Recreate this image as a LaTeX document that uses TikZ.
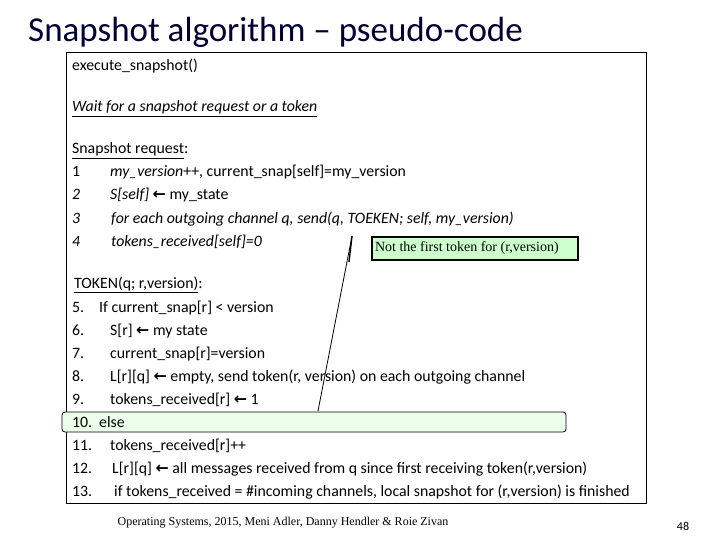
\documentclass[tikz,border=0pt]{standalone}
\usepackage{fontspec}
\setmainfont{Carlito}
\newfontfamily\ser{Liberation Serif}
\newfontfamily\dv{DejaVu Sans}
\newcommand{\la}{{\dv\bfseries ←}}
\begin{document}
\begin{tikzpicture}[x=1pt,y=-1pt,
  code/.style={anchor=base west,inner sep=0pt,font=\fontsize{15.8}{18}\selectfont}]
\useasboundingbox (0,0) rectangle (720,540);
\node[anchor=base west,inner sep=0pt,font=\fontsize{35}{40}\selectfont,text=black!80!blue] (title) at (28,42) {Snapshot algorithm -- pseudo-code};
\draw[line width=0.8pt] (66,52) rectangle (646,503);
\draw[line width=0.8pt,fill=green!8,rounded corners=3pt] (62,412) rectangle (566,432);
\node[draw,line width=1.2pt,fill=green!20,minimum width=206pt,minimum height=23pt,inner sep=0pt,font=\ser\fontsize{14}{16}\selectfont] (call) at (475,248.5) {\makebox[200pt][l]{Not the first token for (r,version)}};
\coordinate (tip) at (318,411);
\coordinate (top) at (352,236);
\coordinate (bot) at (349,262);
\draw[line width=0.8pt] (top) -- (tip);
\draw[line width=1.4pt] (top) -- (bot);
\node[code] (l0) at (72,71) {execute\_snapshot()};
\node[code] (l1) at (72,112) {\underline{\itshape Wait for a snapshot request or a token}};
\node[code] (l2) at (72,154) {\underline{Snapshot request}:};
\node[code] (n1) at (72,177) {1};
\node[code] (t1) at (110,177) {{\itshape my\_version}++, current\_snap[self]=my\_version};
\node[code] (n2) at (72,200) {\itshape 2};
\node[code] (t2) at (110,200) {{\itshape S[self]} \la{} my\_state};
\node[code] (n3) at (72,223) {\itshape 3};
\node[code] (t3) at (111,223) {\itshape for each outgoing channel q, send(q, TOEKEN; self, my\_version)};
\node[code] (n4) at (72,246) {\itshape 4};
\node[code] (t4) at (111,246) {\itshape tokens\_received[self]=0};
\node[code] (tok) at (74,288) {\underline{TOKEN(q; r,version)}:};
\foreach \n/\y/\x/\t in {5/312/99/{If current\_snap[r] < version},
  6/335/110/{S[r] \la{} my state},
  7/358/110/{current\_snap[r]=version},
  8/381/110/{L[r][q] \la{} empty, send token(r, version) on each outgoing channel},
  9/404/110/{tokens\_received[r] \la{} 1},
  10/427/99/{else},
  11/450/110/{tokens\_received[r]++},
  12/473/112/{L[r][q] \la{} all messages received from q since first receiving token(r,version)},
  13/496/114/{if tokens\_received = \#incoming channels, local snapshot for (r,version) is finished}}{
  \node[code] (m\n) at (72,\y) {\n.};
  \node[code] (s\n) at (\x,\y) {\t};
}
\node[font=\ser\fontsize{12}{14}\selectfont] (foot) at (283,523) {Operating Systems, 2015, Meni Adler, Danny Hendler \& Roie Zivan};
\node[font=\fontsize{12}{14}\selectfont] (pg) at (683,526) {48};
\end{tikzpicture}
\end{document}
